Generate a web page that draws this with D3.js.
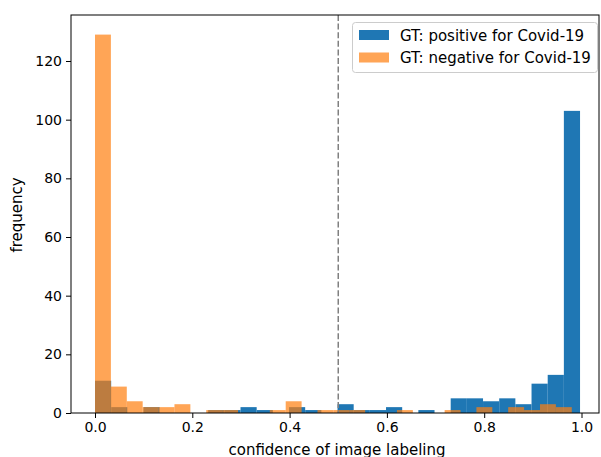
<!DOCTYPE html>
<html><head><meta charset="utf-8">
<script src="https://cdn.jsdelivr.net/npm/d3@7"></script>
<style>body{margin:0;background:#fff}svg{display:block}text{font-family:"DejaVu Sans",sans-serif;fill:#000}</style>
</head><body><svg id="c" width="601" height="457"></svg>
<script>
// Data (counts per histogram bin, 30 bins each)
const seriesNames = ["GT: positive for Covid-19", "GT: negative for Covid-19"];
const positiveRange = [0.0, 0.997];
const positiveCounts = [11,2,0,2,0,0,0,1,1,2,1,0,2,1,0,3,1,1,2,0,1,0,5,5,4,5,3,10,13,103];
const negativeRange = [0.0, 0.980];
const negativeCounts = [129,9,4,2,2,3,0,1,1,0,0,1,4,0,1,1,1,0,0,1,0,0,1,0,2,0,2,1,3,2];
const xTicks = [0.0, 0.2, 0.4, 0.6, 0.8, 1.0];
const yTicks = [0, 20, 40, 60, 80, 100, 120];
const threshold = 0.5;

const svg = d3.select("#c");
const L = 71, R = 599, T = 15, B = 413;
const x = d3.scaleLinear().domain([0, 1]).range([95, 581.5]);
const y = d3.scaleLinear().domain([0, 120]).range([B, 61]);

function bins(range, counts) {
  const w = (range[1] - range[0]) / counts.length;
  return counts.map((c, i) => ({x0: range[0] + i * w, x1: range[0] + (i + 1) * w, c}));
}
const g = svg.append("g");
g.selectAll("rect.pos").data(bins(positiveRange, positiveCounts).filter(d => d.c > 0)).enter()
  .append("rect").attr("x", d => x(d.x0)).attr("width", d => x(d.x1) - x(d.x0))
  .attr("y", d => y(d.c)).attr("height", d => y(0) - y(d.c)).attr("fill", "#1f77b4");
g.selectAll("rect.neg").data(bins(negativeRange, negativeCounts).filter(d => d.c > 0)).enter()
  .append("rect").attr("x", d => x(d.x0)).attr("width", d => x(d.x1) - x(d.x0))
  .attr("y", d => y(d.c)).attr("height", d => y(0) - y(d.c)).attr("fill", "#ff7f0e").attr("fill-opacity", 0.7);

// threshold line
svg.append("line").attr("x1", x(threshold)).attr("x2", x(threshold)).attr("y1", T).attr("y2", B)
  .attr("stroke", "#808080").attr("stroke-width", 1.5).attr("stroke-dasharray", "6,2.6");

// frame
svg.append("rect").attr("x", L).attr("y", T).attr("width", R - L).attr("height", B - T)
  .attr("fill", "none").attr("stroke", "#000").attr("stroke-width", 1);

// axes
const xa = svg.append("g").attr("transform", `translate(0,${B})`)
  .call(d3.axisBottom(x).tickValues(xTicks).tickFormat(d3.format(".1f")).tickSize(5).tickPadding(4));
const ya = svg.append("g").attr("transform", `translate(${L},0)`)
  .call(d3.axisLeft(y).tickValues(yTicks).tickSize(5).tickPadding(4));
[xa, ya].forEach(a => {
  a.select(".domain").remove();
  a.selectAll("text").style("font-family", "DejaVu Sans").style("font-size", "14px").attr("fill", "#000");
  a.selectAll("line").attr("stroke", "#000");
});

svg.append("text").attr("x", 337).attr("y", 455).attr("text-anchor", "middle")
  .style("font-size", "15px").text("confidence of image labeling");
svg.append("text").attr("transform", "translate(22,215) rotate(-90)").attr("text-anchor", "middle")
  .style("font-size", "15px").text("frequency");

// legend
const lg = svg.append("g");
lg.append("rect").attr("x", 352.5).attr("y", 22.5).attr("width", 245).attr("height", 50).attr("rx", 3)
  .attr("fill", "#fff").attr("fill-opacity", 0.8).attr("stroke", "#ccc");
const lcol = [["#1f77b4", 1], ["#ff7f0e", 0.7]];
seriesNames.forEach((n, i) => {
  lg.append("rect").attr("x", 359).attr("y", 30 + i * 22.5).attr("width", 30).attr("height", 10)
    .attr("fill", lcol[i][0]).attr("fill-opacity", lcol[i][1]);
  lg.append("text").attr("x", 400).attr("y", 40.5 + i * 22.5).style("font-size", "15px").text(n);
});
</script></body></html>
